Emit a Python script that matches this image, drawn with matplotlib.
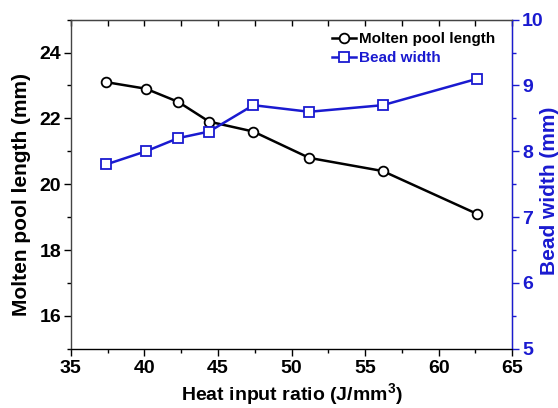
import matplotlib
matplotlib.use("Agg")
import matplotlib.pyplot as plt
from matplotlib.ticker import MultipleLocator

plt.rcParams['font.family'] = ['Liberation Sans', 'DejaVu Sans']
plt.rcParams['font.weight'] = 'bold'
plt.rcParams['mathtext.fontset'] = 'custom'
plt.rcParams['mathtext.rm'] = 'Liberation Sans'
plt.rcParams['mathtext.default'] = 'rm'

heat_input = [37.4, 40.1, 42.3, 44.4, 47.4, 51.2, 56.2, 62.6]
pool_length = [23.1, 22.9, 22.5, 21.9, 21.6, 20.8, 20.4, 19.1]
bead_width = [7.8, 8.0, 8.2, 8.3, 8.7, 8.6, 8.7, 9.1]

blue = '#1a1ad0'

fig = plt.figure(figsize=(5.58, 4.08), dpi=100)
ax = fig.add_axes([0.127, 0.145, 0.791, 0.807])
ax2 = ax.twinx()

l1, = ax.plot(heat_input, pool_length, '-o', color='black', lw=1.8, ms=7,
              mfc='white', mec='black', mew=1.3, label='Molten pool length')
l2, = ax2.plot(heat_input, bead_width, '-s', color=blue, lw=1.8, ms=6.5,
               mfc='white', mec=blue, mew=1.3, label='Bead width')

ax.set_xlim(35, 65)
ax.set_ylim(15, 25)
ax2.set_ylim(5, 10)

ax.xaxis.set_major_locator(MultipleLocator(5))
ax.xaxis.set_minor_locator(MultipleLocator(2.5))
ax.yaxis.set_major_locator(MultipleLocator(2))
ax.yaxis.set_minor_locator(MultipleLocator(1))
ax2.yaxis.set_major_locator(MultipleLocator(1))
ax2.yaxis.set_minor_locator(MultipleLocator(0.5))

ax.tick_params(axis='x', which='both', direction='out', top=False, labelsize=14, pad=3)
ax.tick_params(axis='x', which='major', length=5, width=1)
ax.tick_params(axis='x', which='minor', length=3, width=1)
ax.tick_params(axis='y', which='major', direction='out', length=5, width=1, labelsize=14, pad=2)
ax.tick_params(axis='y', which='minor', direction='out', length=3, width=1)
ax2.tick_params(axis='y', which='major', direction='out', length=5, width=1,
                labelsize=14, colors=blue, pad=2)
ax2.tick_params(axis='y', which='minor', direction='out', length=3, width=1, colors=blue)

# top ticks inward
secx = ax.secondary_xaxis('top')
secx.xaxis.set_major_locator(MultipleLocator(2.5))
secx.tick_params(axis='x', direction='in', length=4, width=1, labeltop=False)
secx.spines['top'].set_visible(False)

for s in ['left', 'bottom', 'top']:
    ax.spines[s].set_color('#444444')
    ax.spines[s].set_linewidth(1.0)
ax2.spines['right'].set_color(blue)
ax2.spines['right'].set_linewidth(1.0)
ax2.spines['left'].set_visible(False)
ax2.spines['top'].set_color('#444444')

ax.set_xlabel('Heat input ratio (J/mm$^{3}$)', fontsize=14, fontweight='bold', labelpad=3)
ax.set_ylabel('Molten pool length (mm)', fontsize=15, fontweight='bold')
ax.yaxis.set_label_coords(-0.09, 0.47)
ax2.set_ylabel('Bead width (mm)', fontsize=15, fontweight='bold', color=blue,
               rotation=90)
ax2.yaxis.set_label_coords(1.063, 0.48)
ax2.yaxis.label.set_verticalalignment('top')
ax2.yaxis.label.set_rotation_mode('anchor')

leg = ax.legend(handles=[l1, l2], loc='upper right', bbox_to_anchor=(0.983, 0.99),
                frameon=False, fontsize=11, handlelength=1.6, handletextpad=0.2,
                labelspacing=0.35, borderaxespad=0.2)
leg.get_texts()[1].set_color(blue)

fig.savefig('out.png', dpi=100)
